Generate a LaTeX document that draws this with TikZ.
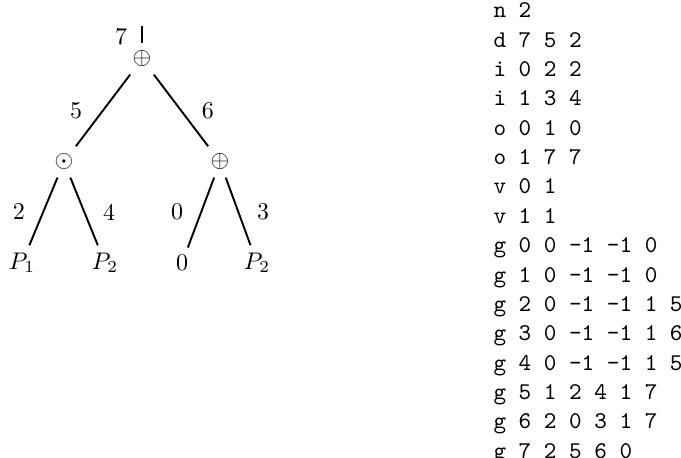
\documentclass[tikz,border=0pt]{standalone}
\usetikzlibrary{positioning}
\tikzset{
  opnode/.style={inner sep=3pt},
  leaf/.style={inner sep=3pt},
  weight/.style={inner sep=0pt},
  branch/.style={thick},
  codeline/.style={font=\ttfamily, anchor=base west, inner sep=0pt}
}
\begin{document}
\begin{tikzpicture}
  \useasboundingbox (0,0) rectangle (9.97,6.705);

  % Expression tree
  \coordinate (top) at (2.079,6.325);
  \node[opnode] (root) at (2.079,5.842) {$\oplus$};
  \node[opnode] (mul) at (0.937,4.334) {$\odot$};
  \node[opnode] (add) at (3.221,4.334) {$\oplus$};

  \node[leaf] (pa) at (0.322,2.855) {$P_1$};
  \node[leaf] (pb) at (1.537,2.855) {$P_2$};
  \node[leaf] (zero) at (2.665,2.855) {$0$};
  \node[leaf] (pc) at (3.763,2.855) {$P_2$};

  \draw[branch] (root) -- (top);
  \draw[branch] (root) -- (mul);
  \draw[branch] (root) -- (add);
  \draw[branch] (mul) -- (pa);
  \draw[branch] (mul) -- (pb);
  \draw[branch] (add) -- (zero);
  \draw[branch] (add) -- (pc);

  % Edge numbers
  \node[weight] (w7) at (1.772,6.164) {7};
  \node[weight] (w5) at (1.113,5.081) {5};
  \node[weight] (w6) at (3.045,5.081) {6};
  \node[weight] (w2) at (0.278,3.602) {2};
  \node[weight] (w4) at (1.596,3.602) {4};
  \node[weight] (w0) at (2.592,3.602) {0};
  \node[weight] (w3) at (3.851,3.602) {3};

  % Serialised form
  \foreach \row [count=\k] in {n 2, d 7 5 2, i 0 2 2, i 1 3 4, o 0 1 0, o 1 7 7,
      v 0 1, v 1 1, g 0 0 -1 -1 0, g 1 0 -1 -1 0, g 2 0 -1 -1 1 5,
      g 3 0 -1 -1 1 6, g 4 0 -1 -1 1 5, g 5 1 2 4 1 7, g 6 2 0 3 1 7,
      g 7 2 5 6 0}
    \node[codeline] (line\k) at (7.218,{6.445-0.430*(\k-1)}) {\row};
\end{tikzpicture}
\end{document}
